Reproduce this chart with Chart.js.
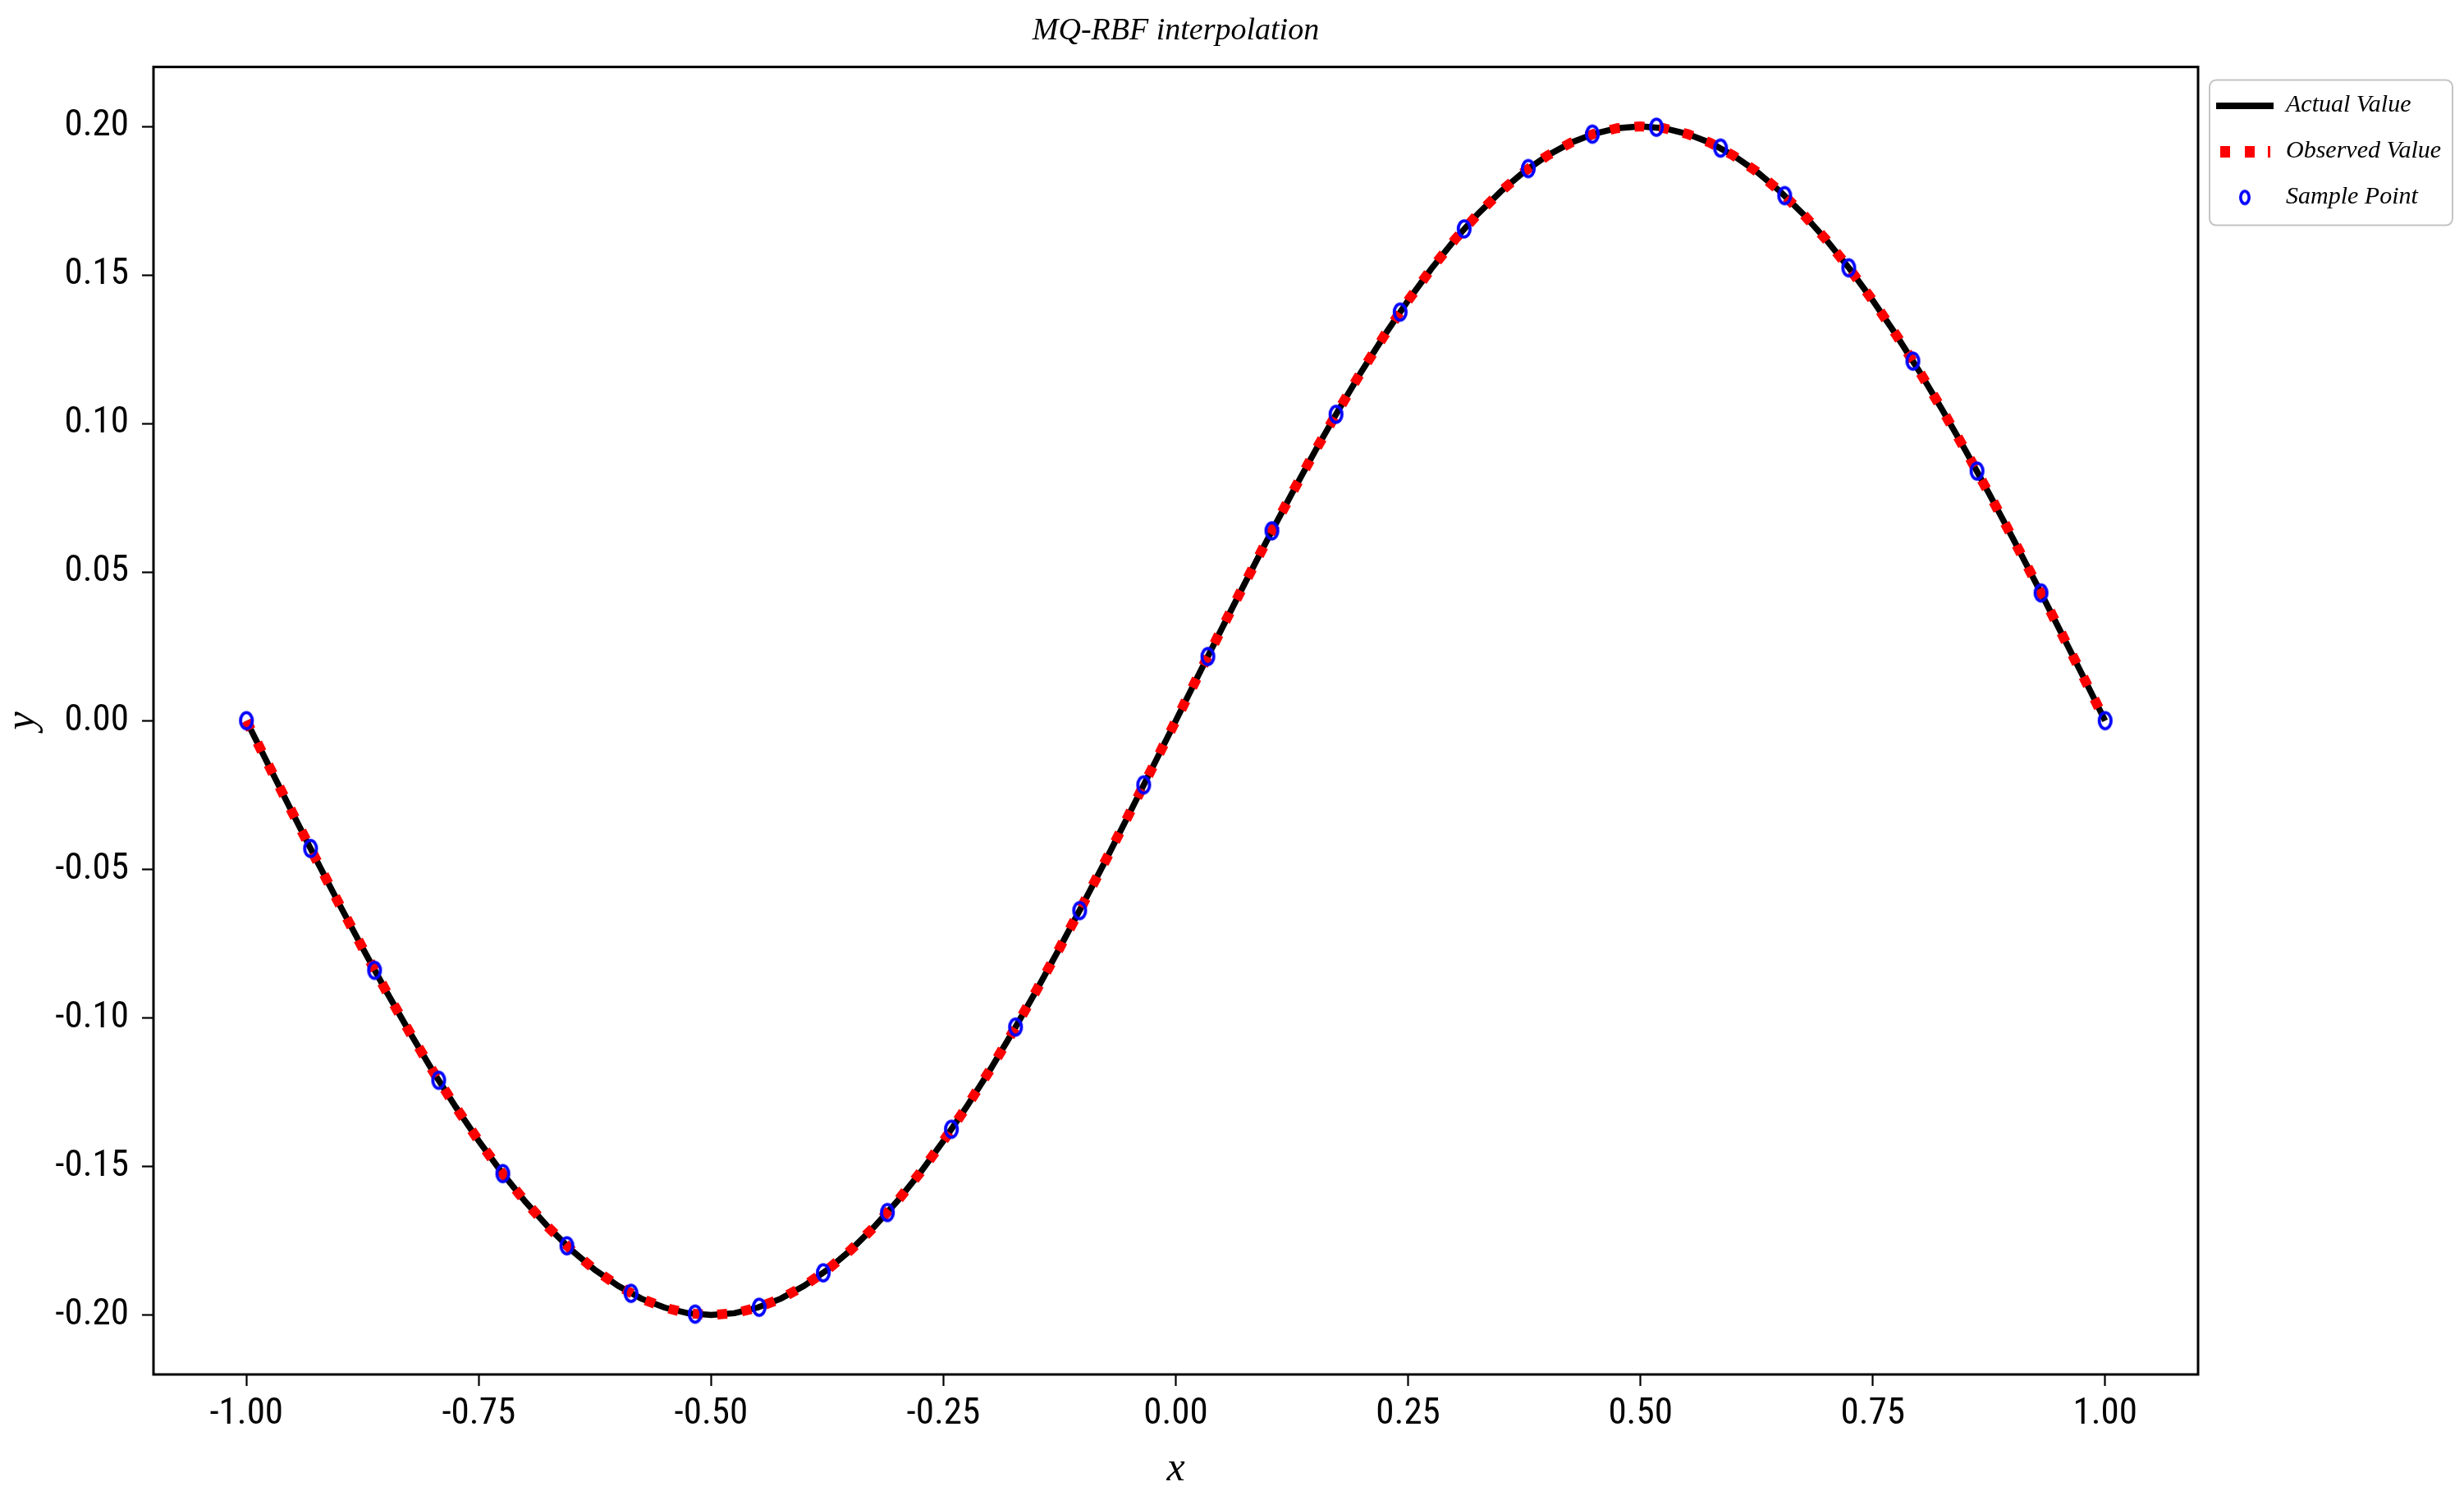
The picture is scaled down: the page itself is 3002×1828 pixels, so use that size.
<!DOCTYPE html>
<html>
<head>
<meta charset="utf-8">
<script src="https://cdn.jsdelivr.net/npm/chart.js@4.4.1/dist/chart.umd.min.js"></script>
<style>
html, body { margin: 0; padding: 0; background: #ffffff; }
#wrap { width: 3002px; height: 1828px; }
canvas { display: block; }
</style>
</head>
<body>
<div id="wrap"><canvas id="c" width="3002" height="1828" style="width:3002px;height:1828px"></canvas></div>
<script>
// ---------------- data ----------------
const chartTitle = 'MQ-RBF interpolation';
const seriesNames = ['Actual Value', 'Observed Value', 'Sample Point'];
const xAxisTitle = 'x';
const yAxisTitle = 'y';

const curveX = [
  -1.000,-0.975,-0.950,-0.925,-0.900,-0.875,-0.850,-0.825,-0.800,-0.775,
  -0.750,-0.725,-0.700,-0.675,-0.650,-0.625,-0.600,-0.575,-0.550,-0.525,
  -0.500,-0.475,-0.450,-0.425,-0.400,-0.375,-0.350,-0.325,-0.300,-0.275,
  -0.250,-0.225,-0.200,-0.175,-0.150,-0.125,-0.100,-0.075,-0.050,-0.025,
   0.000, 0.025, 0.050, 0.075, 0.100, 0.125, 0.150, 0.175, 0.200, 0.225,
   0.250, 0.275, 0.300, 0.325, 0.350, 0.375, 0.400, 0.425, 0.450, 0.475,
   0.500, 0.525, 0.550, 0.575, 0.600, 0.625, 0.650, 0.675, 0.700, 0.725,
   0.750, 0.775, 0.800, 0.825, 0.850, 0.875, 0.900, 0.925, 0.950, 0.975,
   1.000
];

const actualY = [
   0.0000,-0.0157,-0.0313,-0.0467,-0.0618,-0.0765,-0.0908,-0.1045,-0.1176,-0.1299,
  -0.1414,-0.1521,-0.1618,-0.1705,-0.1782,-0.1848,-0.1902,-0.1945,-0.1975,-0.1994,
  -0.2000,-0.1994,-0.1975,-0.1945,-0.1902,-0.1848,-0.1782,-0.1705,-0.1618,-0.1521,
  -0.1414,-0.1299,-0.1176,-0.1045,-0.0908,-0.0765,-0.0618,-0.0467,-0.0313,-0.0157,
   0.0000, 0.0157, 0.0313, 0.0467, 0.0618, 0.0765, 0.0908, 0.1045, 0.1176, 0.1299,
   0.1414, 0.1521, 0.1618, 0.1705, 0.1782, 0.1848, 0.1902, 0.1945, 0.1975, 0.1994,
   0.2000, 0.1994, 0.1975, 0.1945, 0.1902, 0.1848, 0.1782, 0.1705, 0.1618, 0.1521,
   0.1414, 0.1299, 0.1176, 0.1045, 0.0908, 0.0765, 0.0618, 0.0467, 0.0313, 0.0157,
   0.0000
];

const observedY = [
   0.0000,-0.0157,-0.0313,-0.0467,-0.0618,-0.0765,-0.0908,-0.1045,-0.1176,-0.1299,
  -0.1414,-0.1521,-0.1618,-0.1705,-0.1782,-0.1848,-0.1902,-0.1945,-0.1975,-0.1994,
  -0.2000,-0.1994,-0.1975,-0.1945,-0.1902,-0.1848,-0.1782,-0.1705,-0.1618,-0.1521,
  -0.1414,-0.1299,-0.1176,-0.1045,-0.0908,-0.0765,-0.0618,-0.0467,-0.0313,-0.0157,
   0.0000, 0.0157, 0.0313, 0.0467, 0.0618, 0.0765, 0.0908, 0.1045, 0.1176, 0.1299,
   0.1414, 0.1521, 0.1618, 0.1705, 0.1782, 0.1848, 0.1902, 0.1945, 0.1975, 0.1994,
   0.2000, 0.1994, 0.1975, 0.1945, 0.1902, 0.1848, 0.1782, 0.1705, 0.1618, 0.1521,
   0.1414, 0.1299, 0.1176, 0.1045, 0.0908, 0.0765, 0.0618, 0.0467, 0.0313, 0.0157,
   0.0000
];

const sampleX = [
  -1.0000,-0.9310,-0.8621,-0.7931,-0.7241,-0.6552,-0.5862,-0.5172,-0.4483,-0.3793,
  -0.3103,-0.2414,-0.1724,-0.1034,-0.0345, 0.0345, 0.1034, 0.1724, 0.2414, 0.3103,
   0.3793, 0.4483, 0.5172, 0.5862, 0.6552, 0.7241, 0.7931, 0.8621, 0.9310, 1.0000
];
const sampleY = [
   0.0000,-0.0430,-0.0840,-0.1210,-0.1524,-0.1767,-0.1927,-0.1997,-0.1974,-0.1858,
  -0.1655,-0.1375,-0.1031,-0.0639,-0.0216, 0.0216, 0.0639, 0.1031, 0.1375, 0.1655,
   0.1858, 0.1974, 0.1997, 0.1927, 0.1767, 0.1524, 0.1210, 0.0840, 0.0430, 0.0000
];

const xTickValues = [-1.00, -0.75, -0.50, -0.25, 0.00, 0.25, 0.50, 0.75, 1.00];
const yTickValues = [-0.20, -0.15, -0.10, -0.05, 0.00, 0.05, 0.10, 0.15, 0.20];

// ---------------- styling ----------------
const SERIF = '"Liberation Serif", "DejaVu Serif", serif';
const NARROW = '"Roboto Condensed", "DejaVu Sans Condensed", "Liberation Sans", sans-serif';

function makeCanvas(w, h, draw) {
  const c = document.createElement('canvas');
  c.width = w; c.height = h;
  draw(c.getContext('2d'));
  return c;
}
const iconActual = makeCanvas(70, 8, g => { g.fillStyle = '#000000'; g.fillRect(0, 0, 70, 8); });
const iconObserved = makeCanvas(70, 14, g => {
  g.fillStyle = '#ff0000';
  g.fillRect(5, 0, 12, 14); g.fillRect(35, 0, 12, 14); g.fillRect(63, 0, 3, 14);
});
const iconSample = makeCanvas(20, 26, g => {
  g.strokeStyle = '#0000ff'; g.lineWidth = 3.6;
  g.beginPath(); g.ellipse(10, 13, 5.2, 7.6, 0, 0, Math.PI * 2); g.stroke();
});
const markerSample = makeCanvas(24, 30, g => {
  g.strokeStyle = '#0000ff'; g.lineWidth = 3.8;
  g.beginPath(); g.ellipse(12, 15, 7.2, 9.8, 0, 0, Math.PI * 2); g.stroke();
});
const legendIcons = [iconActual, iconObserved, iconSample];

const framePlugin = {
  id: 'frameAndLegendBox',
  afterLayout(chart) {
    const lg = chart.legend;
    const a = chart.chartArea;
    if (!lg) return;
    const w = lg.width, h = lg.height;
    lg.left = a.right - 4;
    lg.top = a.top + 6;
    lg.right = lg.left + w;
    lg.bottom = lg.top + Math.max(h, 400);
  },
  afterDraw(chart) {
    const { ctx, chartArea: a } = chart;
    ctx.save();
    // axes frame
    ctx.strokeStyle = '#000000';
    ctx.lineWidth = 3;
    ctx.strokeRect(a.left, a.top, a.right - a.left, a.bottom - a.top);
    // legend frame
    const lg = chart.legend;
    const bx = lg.left + 18, by = lg.top + 10, bw = 296, bh = 177, r = 8;
    ctx.strokeStyle = '#c4c4c4';
    ctx.lineWidth = 2;
    ctx.beginPath();
    ctx.moveTo(bx + r, by);
    ctx.lineTo(bx + bw - r, by);
    ctx.arcTo(bx + bw, by, bx + bw, by + r, r);
    ctx.lineTo(bx + bw, by + bh - r);
    ctx.arcTo(bx + bw, by + bh, bx + bw - r, by + bh, r);
    ctx.lineTo(bx + r, by + bh);
    ctx.arcTo(bx, by + bh, bx, by + bh - r, r);
    ctx.lineTo(bx, by + r);
    ctx.arcTo(bx, by, bx + r, by, r);
    ctx.closePath();
    ctx.stroke();
    ctx.restore();
  }
};

const fmt2 = v => Number(v).toFixed(2);

new Chart(document.getElementById('c'), {
  type: 'line',
  data: {
    datasets: [
      {
        label: seriesNames[0],
        data: curveX.map((x, i) => ({ x: x, y: actualY[i] })),
        borderColor: '#000000',
        borderWidth: 7.5,
        pointRadius: 0,
        pointHoverRadius: 0,
        fill: false,
        tension: 0,
        order: 3
      },
      {
        label: seriesNames[1],
        data: curveX.map((x, i) => ({ x: x, y: observedY[i] })),
        borderColor: '#ff0000',
        borderWidth: 12,
        borderDash: [12, 18],
        borderCapStyle: 'butt',
        pointRadius: 0,
        pointHoverRadius: 0,
        fill: false,
        tension: 0,
        order: 2
      },
      {
        label: seriesNames[2],
        data: sampleX.map((x, i) => ({ x: x, y: sampleY[i] })),
        showLine: false,
        pointStyle: markerSample,
        pointRadius: 10,
        pointHoverRadius: 10,
        order: 1
      }
    ]
  },
  options: {
    responsive: false,
    devicePixelRatio: 1,
    animation: false,
    events: [],
    layout: { padding: { left: 0, right: 324, top: 0, bottom: 0 } },
    plugins: {
      tooltip: { enabled: false },
      title: {
        display: true,
        text: chartTitle,
        fullSize: false,
        color: '#000000',
        font: { family: SERIF, size: 38, style: 'italic', weight: 'normal', lineHeight: 1.2 },
        padding: { top: 15, bottom: 21 }
      },
      legend: {
        display: true,
        position: 'chartArea',
        align: 'start',
        labels: {
          usePointStyle: true,
          pointStyleWidth: 70,
          padding: 26,
          textAlign: 'left',
          color: '#000000',
          font: { family: SERIF, size: 30, style: 'italic', weight: 'normal' },
          generateLabels: () => seriesNames.map((name, i) => ({
            text: name,
            pointStyle: legendIcons[i],
            fillStyle: 'rgba(0,0,0,0)',
            strokeStyle: 'rgba(0,0,0,0)',
            lineWidth: 0,
            hidden: false,
            datasetIndex: i,
            fontColor: '#000000'
          }))
        }
      }
    },
    scales: {
      x: {
        type: 'linear',
        min: -1.1,
        max: 1.1,
        afterBuildTicks: s => { s.ticks = xTickValues.map(v => ({ value: v })); },
        afterFit: s => { s.height = 153; },
        grid: { display: true, drawOnChartArea: false, drawTicks: true, tickLength: 14, tickWidth: 2.2, tickColor: '#000000' },
        border: { display: false },
        ticks: {
          color: '#000000',
          padding: 8,
          maxRotation: 0,
          autoSkip: false,
          font: { family: NARROW, size: 45 },
          callback: v => fmt2(v)
        },
        title: {
          display: true,
          text: xAxisTitle,
          color: '#000000',
          font: { family: SERIF, size: 50, style: 'italic', lineHeight: 1 },
          padding: { top: 0, bottom: 12 }
        }
      },
      y: {
        type: 'linear',
        min: -0.22,
        max: 0.22,
        afterBuildTicks: s => { s.ticks = yTickValues.map(v => ({ value: v })); },
        afterFit: s => { s.width = 187; },
        grid: { display: true, drawOnChartArea: false, drawTicks: true, tickLength: 14, tickWidth: 2.2, tickColor: '#000000' },
        border: { display: false },
        ticks: {
          color: '#000000',
          padding: 16,
          autoSkip: false,
          font: { family: NARROW, size: 45 },
          callback: v => fmt2(v)
        },
        title: {
          display: true,
          text: yAxisTitle,
          color: '#000000',
          font: { family: SERIF, size: 50, style: 'italic', lineHeight: 1 },
          padding: { top: 3, bottom: 0 }
        }
      }
    }
  },
  plugins: [framePlugin]
});
</script>
</body>
</html>
